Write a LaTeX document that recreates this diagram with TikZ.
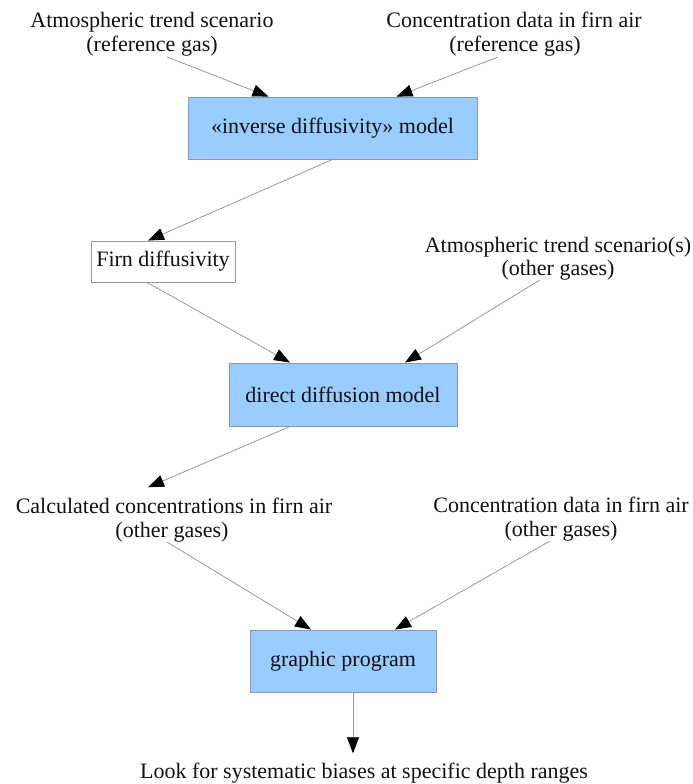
\documentclass[tikz,border=0pt]{standalone}
\usepackage{fontspec}
\setmainfont{Liberation Serif}
\usetikzlibrary{arrows.meta}
\definecolor{boxfill}{HTML}{99CCFF}
\definecolor{boxline}{HTML}{7D9BBF}
\definecolor{conn}{HTML}{999999}
\definecolor{txt}{HTML}{111111}
\begin{document}
\begin{tikzpicture}[x=1pt,y=-1pt,
  lbl/.style={inner sep=0pt, anchor=base, text=txt, font=\fontsize{22}{24}\selectfont},
  bluebox/.style={draw=boxline, line width=0.9pt, fill=boxfill, inner sep=0pt, text=txt,
    font=\fontsize{22}{24}\selectfont},
  whitebox/.style={draw=conn, line width=0.9pt, fill=white, inner sep=0pt, text=txt,
    font=\fontsize{22}{24}\selectfont},
  arr/.style={draw=conn, line width=0.8pt, -{Triangle[length=16pt,width=12pt,color=black,fill=black]}}]
\fill[white] (0,0) rectangle (693,784);
\useasboundingbox (0,0) rectangle (693,784);

% top inputs
\node[lbl] (t1a) at (152,28) {Atmospheric trend scenario};
\node[lbl] (t1b) at (152,52) {(reference gas)};
\node[lbl] (t2a) at (514,28) {Concentration data in firn air};
\node[lbl] (t2b) at (515,52) {(reference gas)};

% inverse model
\node[bluebox, minimum width=289pt, minimum height=62pt] (box1) at (332.5,128) {«inverse diffusivity» model};

% firn diffusivity
\node[whitebox, minimum width=144pt, minimum height=41pt] (firn) at (163,261.5) {Firn diffusivity};

% other gases scenario
\node[lbl] (m1a) at (558,252) {Atmospheric trend scenario(s)};
\node[lbl] (m1b) at (558,275) {(other gases)};

% direct model
\node[bluebox, minimum width=228pt, minimum height=63pt] (box2) at (343,394.5) {direct diffusion model};

% outputs
\node[lbl] (c1a) at (174,513) {Calculated concentrations in firn air};
\node[lbl] (c1b) at (172,537) {(other gases)};
\node[lbl] (c2a) at (561,512) {Concentration data in firn air};
\node[lbl] (c2b) at (561,536) {(other gases)};

% graphic program
\node[bluebox, minimum width=186pt, minimum height=62pt] (box3) at (343,661) {graphic program};

% final
\node[lbl] (look) at (364,778) {Look for systematic biases at specific depth ranges};

% connectors
\draw[arr] ([xshift=15pt]t1b.south) -- ([xshift=-64pt]box1.north);
\draw[arr] ([xshift=-17pt]t2b.south) -- ([xshift=64pt]box1.north);
\draw[arr] (box1.south) -- ([xshift=-15pt]firn.north);
\draw[arr] ([xshift=-16pt]firn.south) -- ([xshift=-53pt]box2.north);
\draw[arr] ([xshift=-18pt]m1b.south) -- ([xshift=62pt]box2.north);
\draw[arr] ([xshift=-53pt]box2.south) -- ([xshift=-26pt,yshift=10pt]c1a.north);
\draw[arr] ([xshift=-5pt]c1b.south) -- ([xshift=-32pt]box3.north);
\draw[arr] ([xshift=-11pt]c2b.south) -- ([xshift=52pt]box3.north);
\draw[arr] ([xshift=10pt]box3.south) -- ([xshift=-11pt,yshift=9pt]look.north);
\end{tikzpicture}
\end{document}
